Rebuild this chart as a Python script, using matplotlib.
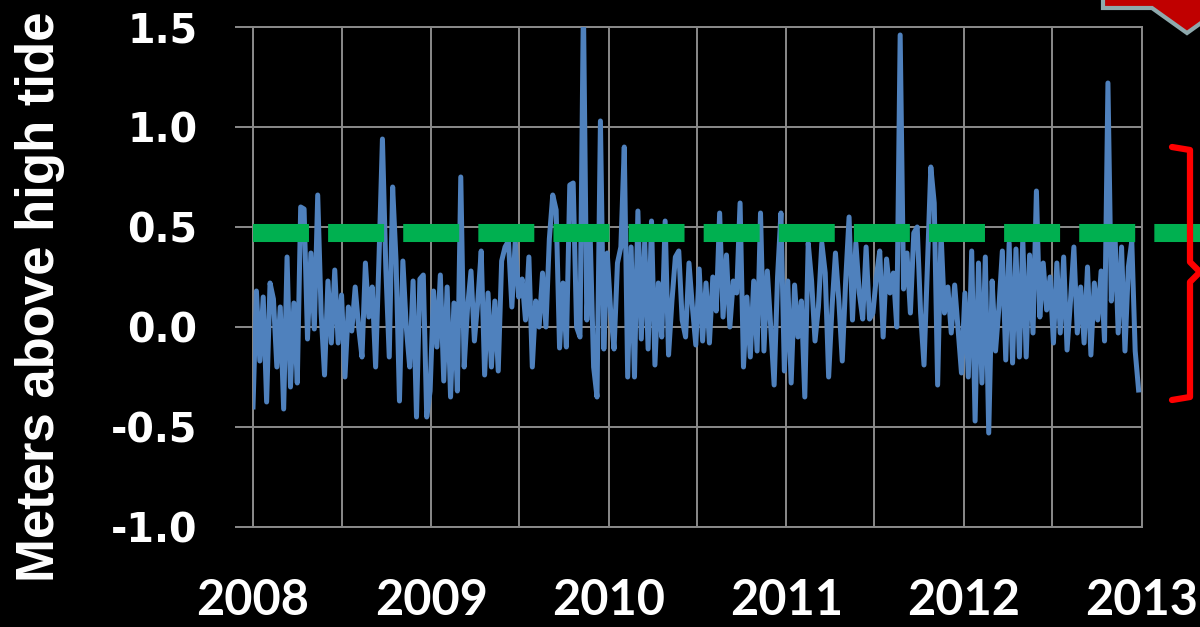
import numpy as np
import pandas as pd
import matplotlib
matplotlib.use("Agg")
import matplotlib.pyplot as plt
import matplotlib.dates as mdates
from matplotlib.lines import Line2D
from matplotlib.patches import Polygon


# weekly water level, meters above high tide
levels_2008 = [
    -0.40, 0.18, -0.17, 0.15, -0.375, 0.22, 0.14, -0.20, 0.10, -0.41,
    0.35, -0.30, 0.12, -0.28, 0.60, 0.59, -0.06, 0.37, -0.01, 0.66,
    0.07, -0.24, 0.23, -0.08, 0.285, -0.08, 0.16, -0.25, 0.10, -0.02,
    0.20, 0.0, -0.15, 0.32, 0.05, 0.20, -0.20, 0.35, 0.94, 0.29,
    -0.15, 0.70, 0.33, -0.37, 0.33, 0.0, -0.20, 0.23, -0.45, 0.24,
    0.26, -0.45,
]
levels_2009 = [
    -0.32, 0.18, -0.10, 0.26, -0.27, 0.20, -0.35, 0.12, -0.32, 0.75,
    -0.20, 0.10, 0.28, -0.07, 0.13, 0.38, -0.24, 0.17, -0.20, 0.13,
    -0.22, 0.33, 0.40, 0.43, 0.10, 0.43, 0.15, 0.24, 0.035, 0.35,
    -0.20, 0.13, 0.0, 0.27, 0.0, 0.44, 0.66, 0.585, -0.105, 0.22,
    -0.10, 0.71, 0.72, 0.0, -0.05, 1.62, 0.035, 0.45, -0.20, -0.35,
    1.03, -0.11,
]
levels_2010 = [
    0.37, 0.08, -0.11, 0.32, 0.40, 0.90, -0.25, 0.40, -0.25, 0.58,
    -0.06, 0.43, -0.11, 0.53, -0.19, 0.22, -0.05, 0.53, -0.14, 0.13,
    0.35, 0.38, 0.035, -0.05, 0.32, 0.10, -0.09, 0.29, -0.07, 0.22,
    -0.08, 0.25, 0.08, 0.57, 0.05, 0.36, 0.0, 0.23, 0.17, 0.62,
    -0.20, 0.15, -0.15, 0.23, -0.12, 0.57, -0.12, 0.28, 0.0, -0.29,
    0.25, 0.57,
]
levels_2011 = [
    -0.22, 0.23, -0.28, 0.21, -0.05, 0.13, -0.35, 0.42, 0.23, -0.07,
    0.10, 0.42, 0.27, -0.25, 0.10, 0.37, 0.13, -0.17, 0.23, 0.55,
    0.035, 0.42, 0.17, 0.04, 0.40, 0.04, 0.07, 0.25, 0.38, -0.05,
    0.34, 0.17, 0.27, 0.0, 1.46, 0.19, 0.37, 0.07, 0.47, 0.50,
    0.07, -0.19, 0.30, 0.80, 0.62, -0.29, 0.47, 0.07, 0.20, -0.03,
    0.21, -0.01,
]
levels_2012 = [
    -0.23, 0.17, -0.25, 0.38, -0.47, 0.32, -0.28, 0.35, -0.53, 0.23,
    -0.12, 0.10, 0.38, -0.165, 0.42, -0.18, 0.39, -0.15, 0.44, -0.15,
    0.36, -0.03, 0.68, 0.05, 0.32, 0.085, 0.25, -0.08, 0.32, -0.03,
    0.35, -0.115, 0.13, 0.40, -0.03, 0.20, -0.08, 0.30, -0.14, 0.22,
    0.035, 0.28, -0.07, 1.22, 0.13, 0.50, -0.03, 0.40, -0.12, 0.30,
    0.43, -0.12, -0.315,
]

threshold = 0.47
y_ticks = [-1.0, -0.5, 0.0, 0.5, 1.0, 1.5]

levels = levels_2008 + levels_2009 + levels_2010 + levels_2011 + levels_2012
dates = pd.date_range("2008-01-01", periods=len(levels), freq="7D")

W, H = 1200, 627
fig = plt.figure(figsize=(W / 100, H / 100), dpi=100, facecolor="black")
ax = fig.add_axes([253 / W, 1 - 527 / H, (1142 - 253) / W, 500 / H])
ax.set_facecolor("black")

grid_color = "#8a8a8a"

ax.plot(dates, levels, color="#4F81BD", linewidth=3.6,
        solid_joinstyle="round", zorder=3)

# dashed threshold runs past the plot to the edge of the slide
ax.plot([0, 1.07], [threshold, threshold],
        transform=ax.get_yaxis_transform(), clip_on=False,
        color="#00B050", linewidth=13, dashes=(3.1, 1.06),
        solid_capstyle="butt", dash_capstyle="butt", zorder=4)

ax.set_xlim(pd.Timestamp("2008-01-01"), pd.Timestamp("2013-01-01"))
ax.set_ylim(-1.0, 1.5)

ax.xaxis.set_major_locator(mdates.YearLocator())
ax.xaxis.set_major_formatter(mdates.DateFormatter("%Y"))
ax.xaxis.set_minor_locator(mdates.MonthLocator(bymonth=7))
ax.set_yticks(y_ticks)
ax.set_yticklabels([f"{v:.1f}" for v in y_ticks])

ax.grid(True, which="both", color=grid_color, linewidth=1.4, zorder=0)
ax.set_axisbelow(True)
for s in ax.spines.values():
    s.set_color(grid_color)
    s.set_linewidth(1.4)

ax.tick_params(axis="x", which="both", length=0, pad=37)
ax.tick_params(axis="y", length=13, width=1.4, color=grid_color,
               direction="out", pad=27)

for lab in ax.get_xticklabels():
    lab.set_fontfamily("Lato")
    lab.set_fontweight("bold")
    lab.set_fontsize(35)
    lab.set_color("white")
for lab in ax.get_yticklabels():
    lab.set_fontfamily("DejaVu Sans")
    lab.set_fontweight("bold")
    lab.set_fontsize(28.5)
    lab.set_color("white")

fig.text(40 / W, 1 - 297 / H, "Meters above high tide", rotation=90,
         ha="center", va="center", color="white", fontsize=38,
         fontweight="bold", family="Liberation Sans")

# red curly bracket on the right
bx = [1172, 1190, 1190, 1200, 1190, 1190, 1172]
by = [147, 150, 262, 272, 282, 397, 400]
fig.add_artist(Line2D([x / W for x in bx], [1 - y / H for y in by],
                      color="#FF0000", linewidth=4.5,
                      solid_joinstyle="round", solid_capstyle="round"))

# tip of a red arrow at the top right
arrow = [(1103, -10), (1103, 8), (1152, 8), (1187, 33), (1222, 8), (1222, -10)]
fig.add_artist(Polygon([(x / W, 1 - y / H) for x, y in arrow],
                       closed=True, facecolor="#C00000",
                       edgecolor="#8EA9AD", linewidth=3))

fig.savefig("out.png", dpi=100, facecolor="black")
